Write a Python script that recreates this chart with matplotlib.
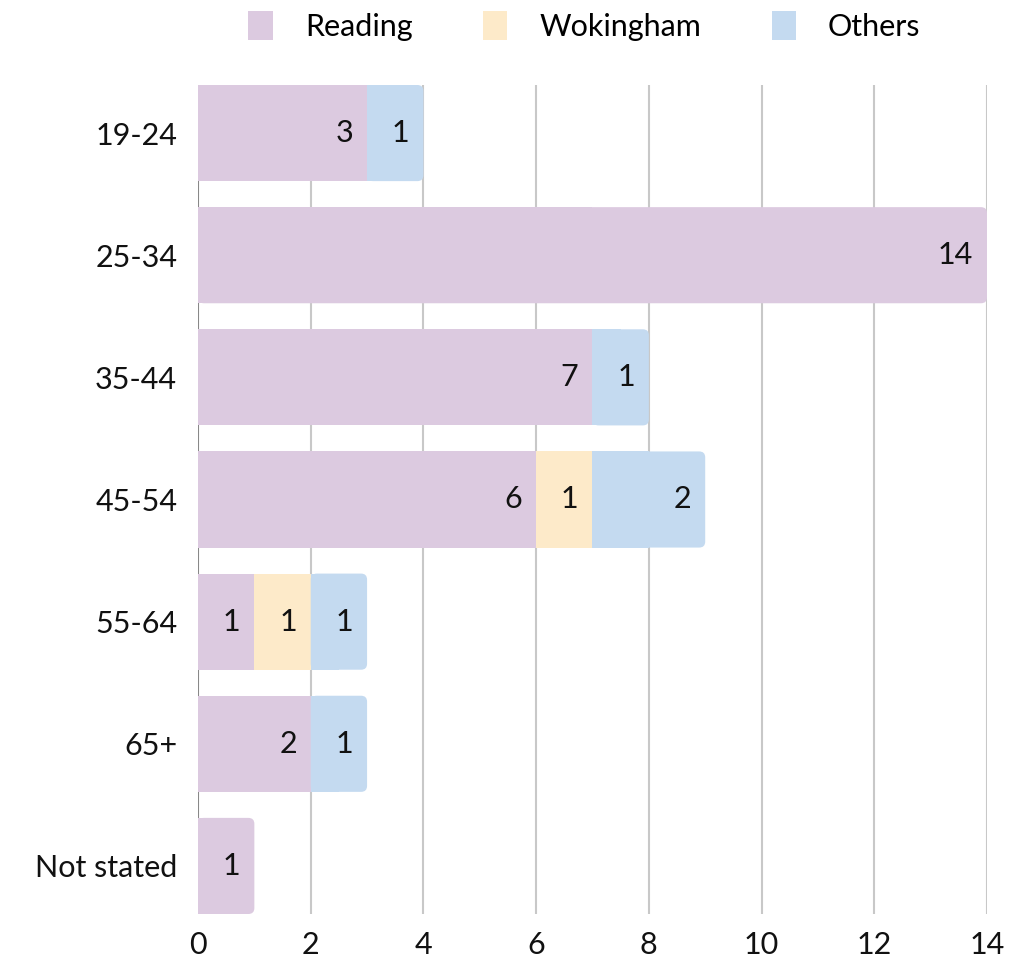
import matplotlib
matplotlib.use('Agg')
import matplotlib.pyplot as plt
from matplotlib.patches import FancyBboxPatch, Rectangle
import numpy as np

plt.rcParams['font.family'] = ['Lato', 'DejaVu Sans']

#dados do gráfico
categorias = ["19-24", "25-34", "35-44", "45-54", "55-64", "65+", "Not stated"]
reading = [3, 14, 7, 6, 1, 2, 1]
wokingham = [0, 0, 0, 1, 1, 0, 0]
others = [1, 0, 1, 2, 1, 1, 0]
series_nomes = ["Reading", "Wokingham", "Others"]
cores = ["#DCCAE0", "#FDEAC9", "#C4DAF0"]
x_ticks = [0, 2, 4, 6, 8, 10, 12, 14]

W, H = 1020, 958
fig = plt.figure(figsize=(W / 100, H / 100), dpi=100)
ax = fig.add_axes([198 / W, 1 - 914 / H, (987 - 198) / W, (914 - 85) / H])

altura = 96 / 122
n = len(categorias)
ys = np.arange(n)
series = [reading, wokingham, others]

#raio do canto arredondado em unidades de dados
r_x = 6 / 56.36
aspecto = (1 / 122) / (1 / 56.36)

for i in range(n):
    valores = [s[i] for s in series]
    ultimo = max(k for k, v in enumerate(valores) if v > 0)
    esquerda = 0
    for k, v in enumerate(valores):
        if v <= 0:
            continue
        y0 = ys[i] - altura / 2
        if k == ultimo:
            #só o fim da pilha tem cantos arredondados
            patch = FancyBboxPatch((esquerda, y0), v, altura,
                                   boxstyle=f"round,pad=0,rounding_size={r_x}",
                                   mutation_aspect=aspecto,
                                   facecolor=cores[k], edgecolor='none', zorder=2)
            ax.add_patch(patch)
            ax.add_patch(Rectangle((esquerda, y0), v / 2, altura,
                                   facecolor=cores[k], edgecolor='none', zorder=2))
        else:
            ax.add_patch(Rectangle((esquerda, y0), v, altura,
                                   facecolor=cores[k], edgecolor='none', zorder=2))
        ax.annotate(str(v), (esquerda + v, ys[i]), xytext=(-10, 0),
                    textcoords='offset points', ha='right', va='center',
                    fontsize=22, color='#111111', zorder=3)
        esquerda += v

ax.set_xlim(0, 14)
ax.set_ylim(n - 1 + altura / 2, -altura / 2)
ax.set_yticks(ys)
ax.set_yticklabels(categorias, fontsize=22, color='#111111')
ax.set_xticks(x_ticks)
ax.set_xticklabels([str(t) for t in x_ticks], fontsize=22, color='#111111')
ax.tick_params(axis='both', length=0)
ax.tick_params(axis='y', pad=15)
ax.tick_params(axis='x', pad=12)

for t in x_ticks[1:]:
    ax.axvline(t, color='#C8C8C8', linewidth=1.5, zorder=1)
ax.axvline(0, color='#888888', linewidth=1.5, zorder=1)

for lado in ['top', 'right', 'bottom', 'left']:
    ax.spines[lado].set_visible(False)

handles = [Rectangle((0, 0), 1, 1, facecolor=c, edgecolor='none') for c in cores]
fig.legend(handles, series_nomes, loc='center', bbox_to_anchor=(0.573, 1 - 26 / H),
           ncol=3, frameon=False, fontsize=22, handlelength=0.8, handleheight=1.1,
           handletextpad=1.05, columnspacing=2.3, borderpad=0)

fig.savefig("out.png", dpi=100)
